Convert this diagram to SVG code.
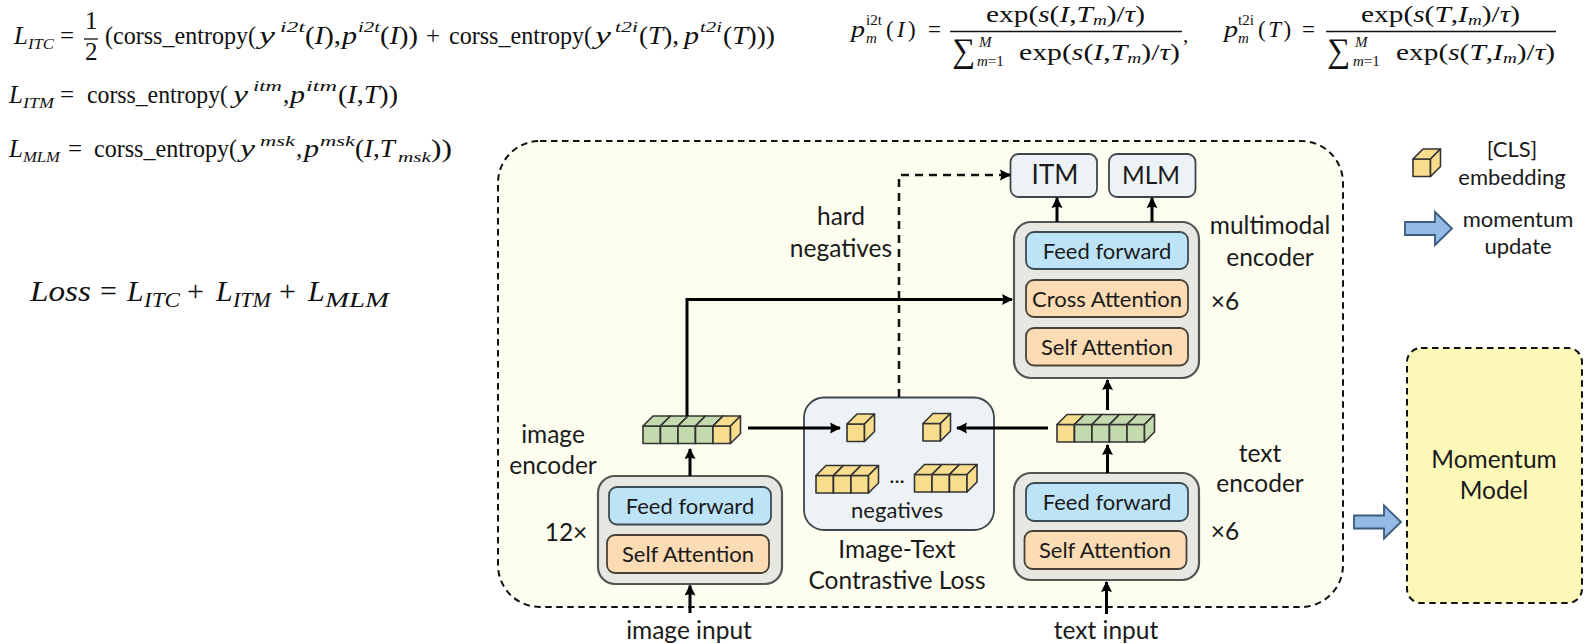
<svg xmlns="http://www.w3.org/2000/svg" width="1588" height="644" viewBox="0 0 1588 644">
<style>
text{font-family:"Lato","Open Sans","Liberation Sans",sans-serif;fill:#1a1a1a;text-anchor:middle}
.t{font-size:24.500px}
.s{font-size:22px}
.box{font-size:22px}
.outer{fill:#e8e8e3;stroke:#555;stroke-width:2.2}
.ff{fill:#bde3f7;stroke:#3c4a52;stroke-width:1.8}
.at{fill:#fbdcb4;stroke:#4a4238;stroke-width:1.8}
.head{fill:#edf2f6;stroke:#3f474d;stroke-width:1.8}
.g{fill:#c3d9ae;stroke:#333;stroke-width:1.6;stroke-linejoin:round}
.y{fill:#f9dd8f;stroke:#333;stroke-width:1.6;stroke-linejoin:round}
.ba{fill:#94bbe3;stroke:#3a5a80;stroke-width:1.8;stroke-linejoin:miter}
.c{fill:none;stroke:#000;stroke-width:3}
.d{fill:none;stroke:#111;stroke-width:2.500;stroke-dasharray:8 6}
.dash{stroke:#111;stroke-width:2;stroke-dasharray:6.500 4.500}
.m{font-family:"Liberation Serif",serif;fill:#111;text-anchor:start}
.i{font-style:italic}
.e{font-size:25px}
.p{font-size:15px}
.l{font-size:30px}
.sb{font-size:21px}
.r{font-size:23px}
.rs{font-size:15px}
.bar{stroke:#111;stroke-width:1.3;fill:none}
.big{font-size:26px}
</style>
<defs>
<marker id="ah" markerUnits="userSpaceOnUse" markerWidth="13" markerHeight="13" refX="10" refY="6" orient="auto"><path d="M0 0.500L11 6L0 11.500L1.500 6Z" fill="#000"/></marker>
<g id="cell"><rect width="17.5" height="17.5"/><path d="M0 0L10 -10H27.5L17.5 0Z"/><path d="M17.5 0L27.5 -10V7.5L17.5 17.5Z"/></g>
<path id="barrow" d="M0 10H30V0L47 16.5L30 33V23H0Z"/>
</defs>

<g id="formulas">
<text class="m e i" x="14" y="44">L</text><text class="m p i" x="28" y="49" textLength="26" lengthAdjust="spacingAndGlyphs">ITC</text>
<text class="m e" x="60" y="44">=</text>
<text class="m e" x="85" y="29">1</text><path class="bar" d="M84 39H98"/><text class="m e" x="85" y="60">2</text>
<text class="m e" x="105" y="44" textLength="151" lengthAdjust="spacingAndGlyphs">(corss_entropy(</text>
<text class="m e i" x="259" y="44" textLength="16" lengthAdjust="spacingAndGlyphs">y</text><text class="m p i" x="280" y="32" textLength="25" lengthAdjust="spacingAndGlyphs">i2t</text>
<text class="m e" x="305" y="44" textLength="36" lengthAdjust="spacingAndGlyphs">(<tspan class="i">I</tspan>),</text>
<text class="m e i" x="342" y="44" textLength="15" lengthAdjust="spacingAndGlyphs">p</text><text class="m p i" x="358" y="32" textLength="22" lengthAdjust="spacingAndGlyphs">i2t</text>
<text class="m e" x="380" y="44" textLength="38" lengthAdjust="spacingAndGlyphs">(<tspan class="i">I</tspan>))</text>
<text class="m e" x="426" y="44">+</text>
<text class="m e" x="449" y="44" textLength="143" lengthAdjust="spacingAndGlyphs">corss_entropy(</text>
<text class="m e i" x="595" y="44" textLength="16" lengthAdjust="spacingAndGlyphs">y</text><text class="m p i" x="615" y="32" textLength="23" lengthAdjust="spacingAndGlyphs">t2i</text>
<text class="m e" x="639" y="44" textLength="40" lengthAdjust="spacingAndGlyphs">(<tspan class="i">T</tspan>),</text>
<text class="m e i" x="684" y="44" textLength="15" lengthAdjust="spacingAndGlyphs">p</text><text class="m p i" x="700" y="32" textLength="22" lengthAdjust="spacingAndGlyphs">t2i</text>
<text class="m e" x="723" y="44" textLength="52" lengthAdjust="spacingAndGlyphs">(<tspan class="i">T</tspan>)))</text>

<text class="m e i" x="9" y="103">L</text><text class="m p i" x="23" y="108" textLength="31" lengthAdjust="spacingAndGlyphs">ITM</text>
<text class="m e" x="60" y="103">=</text>
<text class="m e" x="87" y="103" textLength="141" lengthAdjust="spacingAndGlyphs">corss_entropy(</text>
<text class="m e i" x="233" y="103" textLength="15" lengthAdjust="spacingAndGlyphs">y</text><text class="m p i" x="253" y="91" textLength="29" lengthAdjust="spacingAndGlyphs">itm</text>
<text class="m e" x="283" y="103">,</text>
<text class="m e i" x="290" y="103" textLength="15" lengthAdjust="spacingAndGlyphs">p</text><text class="m p i" x="306" y="91" textLength="31" lengthAdjust="spacingAndGlyphs">itm</text>
<text class="m e" x="338" y="103" textLength="60" lengthAdjust="spacingAndGlyphs">(<tspan class="i">I</tspan>,<tspan class="i">T</tspan>))</text>

<text class="m e i" x="9" y="157">L</text><text class="m p i" x="23" y="162" textLength="37" lengthAdjust="spacingAndGlyphs">MLM</text>
<text class="m e" x="68" y="157">=</text>
<text class="m e" x="94" y="157" textLength="143" lengthAdjust="spacingAndGlyphs">corss_entropy(</text>
<text class="m e i" x="240" y="157" textLength="15" lengthAdjust="spacingAndGlyphs">y</text><text class="m p i" x="260" y="146" textLength="35" lengthAdjust="spacingAndGlyphs">msk</text>
<text class="m e" x="296" y="157">,</text>
<text class="m e i" x="304" y="157" textLength="15" lengthAdjust="spacingAndGlyphs">p</text><text class="m p i" x="320" y="146" textLength="35" lengthAdjust="spacingAndGlyphs">msk</text>
<text class="m e" x="355" y="157" textLength="40" lengthAdjust="spacingAndGlyphs">(<tspan class="i">I</tspan>,<tspan class="i">T</tspan></text>
<text class="m p i" x="398" y="162" textLength="33" lengthAdjust="spacingAndGlyphs">msk</text>
<text class="m e" x="431" y="157" textLength="21" lengthAdjust="spacingAndGlyphs">))</text>

<text class="m l i" x="30" y="301" textLength="61" lengthAdjust="spacingAndGlyphs">Loss</text>
<text class="m l" x="100" y="301">=</text>
<text class="m l i" x="127" y="301">L</text><text class="m sb i" x="144" y="307" textLength="36" lengthAdjust="spacingAndGlyphs">ITC</text>
<text class="m l" x="187" y="301">+</text>
<text class="m l i" x="216" y="301">L</text><text class="m sb i" x="233" y="307" textLength="38" lengthAdjust="spacingAndGlyphs">ITM</text>
<text class="m l" x="279" y="301">+</text>
<text class="m l i" x="308" y="301">L</text><text class="m sb i" x="325" y="307" textLength="64" lengthAdjust="spacingAndGlyphs">MLM</text>

<text class="m r i" x="851" y="37" textLength="14" lengthAdjust="spacingAndGlyphs">p</text><text class="m rs" x="866" y="25">i2t</text><text class="m rs i" x="866" y="43">m</text>
<text class="m r" x="886" y="37" textLength="55" lengthAdjust="spacing">(<tspan class="i">I</tspan>) =</text>
<text class="m r" x="986" y="22" textLength="159" lengthAdjust="spacingAndGlyphs">exp(<tspan class="i">s</tspan>(<tspan class="i">I</tspan>,<tspan class="i">T</tspan><tspan class="i" font-size="15" dy="3">m</tspan><tspan dy="-3">)/</tspan><tspan class="i">τ</tspan>)</text>
<path class="bar" d="M950 31.500H1182"/>
<text class="m" x="952" y="62" font-size="34" textLength="23" lengthAdjust="spacingAndGlyphs">∑</text><text class="m rs i" x="979" y="47">M</text><text class="m rs" x="977" y="66"><tspan class="i">m</tspan>=1</text>
<text class="m r" x="1019" y="60" textLength="161" lengthAdjust="spacingAndGlyphs">exp(<tspan class="i">s</tspan>(<tspan class="i">I</tspan>,<tspan class="i">T</tspan><tspan class="i" font-size="15" dy="3">m</tspan><tspan dy="-3">)/</tspan><tspan class="i">τ</tspan>)</text>
<text class="m sb" x="1183" y="42">,</text>

<text class="m r i" x="1224" y="37" textLength="14" lengthAdjust="spacingAndGlyphs">p</text><text class="m rs" x="1238" y="25">t2i</text><text class="m rs i" x="1238" y="43">m</text>
<text class="m r" x="1258" y="37" textLength="57" lengthAdjust="spacing">(<tspan class="i">T</tspan>) =</text>
<text class="m r" x="1361" y="22" textLength="159" lengthAdjust="spacingAndGlyphs">exp(<tspan class="i">s</tspan>(<tspan class="i">T</tspan>,<tspan class="i">I</tspan><tspan class="i" font-size="15" dy="3">m</tspan><tspan dy="-3">)/</tspan><tspan class="i">τ</tspan>)</text>
<path class="bar" d="M1326 31.500H1556"/>
<text class="m" x="1327" y="62" font-size="34" textLength="23" lengthAdjust="spacingAndGlyphs">∑</text><text class="m rs i" x="1355" y="47">M</text><text class="m rs" x="1353" y="66"><tspan class="i">m</tspan>=1</text>
<text class="m r" x="1396" y="60" textLength="159" lengthAdjust="spacingAndGlyphs">exp(<tspan class="i">s</tspan>(<tspan class="i">T</tspan>,<tspan class="i">I</tspan><tspan class="i" font-size="15" dy="3">m</tspan><tspan dy="-3">)/</tspan><tspan class="i">τ</tspan>)</text>
</g>

<g id="model-frame"><rect class="dash" x="498" y="141" width="845" height="466" rx="42" fill="#fefef0"/></g>

<g id="image-encoder">
<rect class="outer" x="598" y="476" width="184" height="108" rx="17"/>
<rect class="ff" x="609" y="487" width="162" height="37.500" rx="8"/><text class="box" x="690" y="514">Feed forward</text>
<rect class="at" x="607" y="535" width="162" height="38" rx="8"/><text class="box" x="688" y="562">Self Attention</text>
</g>
<g id="image-encoder-labels"><text class="t" x="553" y="443">image</text><text class="t" x="553" y="474">encoder</text><text class="t" x="566" y="541">12×</text></g>
<g id="image-tokens">
<use href="#cell" class="g" x="643" y="426"/><use href="#cell" class="g" x="660.500" y="426"/><use href="#cell" class="g" x="678" y="426"/><use href="#cell" class="g" x="695.500" y="426"/><use href="#cell" class="y" x="713" y="426"/>
</g>
<g id="contrastive-loss">
<rect class="head" x="804" y="397.500" width="190" height="132.500" rx="20"/>
<use href="#cell" class="y" x="847" y="424"/><use href="#cell" class="y" x="923" y="423.500"/>
<use href="#cell" class="y" x="816" y="475.500"/><use href="#cell" class="y" x="833.500" y="475.500"/><use href="#cell" class="y" x="851" y="475.500"/>
<use href="#cell" class="y" x="914.500" y="474.500"/><use href="#cell" class="y" x="932" y="474.500"/><use href="#cell" class="y" x="949.500" y="474.500"/>
<text class="s" x="897" y="483">...</text>
<text class="s" x="897" y="518">negatives</text>
<text class="t" x="897" y="558">Image-Text</text><text class="t" x="897" y="589">Contrastive Loss</text>
</g>
<g id="text-tokens">
<use href="#cell" class="y" x="1057" y="424.500"/><use href="#cell" class="g" x="1074.500" y="424.500"/><use href="#cell" class="g" x="1092" y="424.500"/><use href="#cell" class="g" x="1109.500" y="424.500"/><use href="#cell" class="g" x="1127" y="424.500"/>
</g>
<g id="text-encoder">
<rect class="outer" x="1014" y="473" width="185" height="107" rx="17"/>
<rect class="ff" x="1026" y="483" width="162" height="38" rx="8"/><text class="box" x="1107" y="510">Feed forward</text>
<rect class="at" x="1024.500" y="531" width="162" height="38" rx="8"/><text class="box" x="1105" y="558">Self Attention</text>
<text class="t" x="1260" y="462">text</text><text class="t" x="1260" y="492">encoder</text><text class="t" x="1225" y="540">×6</text>
</g>
<g id="multimodal-encoder">
<rect class="outer" x="1014" y="222" width="185" height="156" rx="17"/>
<rect class="ff" x="1026" y="232" width="162" height="37" rx="8"/><text class="box" x="1107" y="259">Feed forward</text>
<rect class="at" x="1026" y="280" width="162" height="37" rx="8"/><text class="box" x="1107" y="307">Cross Attention</text>
<rect class="at" x="1026" y="328" width="162" height="37.500" rx="8"/><text class="box" x="1107" y="355">Self Attention</text>
<text class="t" x="1270" y="234">multimodal</text><text class="t" x="1270" y="266">encoder</text><text class="t" x="1225" y="310">×6</text>
</g>
<g id="itm"><rect class="head" x="1010.500" y="154" width="86.500" height="43" rx="8"/><text class="big" x="1055" y="184">ITM</text></g>
<g id="mlm"><rect class="head" x="1109" y="154" width="86.500" height="43" rx="8"/><text class="t" x="1151" y="184">MLM</text></g>
<g id="momentum-model"><rect class="dash" x="1407" y="348" width="175" height="255" rx="14" fill="#fcf8b8"/><text class="t" x="1494" y="468">Momentum</text><text class="t" x="1494" y="499">Model</text></g>
<g id="legend">
<use href="#cell" class="y" x="1413" y="159"/>
<text class="s" x="1512" y="157">[CLS]</text><text class="s" x="1512" y="185">embedding</text>
<use href="#barrow" class="ba" x="1405" y="212"/>
<text class="s" x="1518" y="227">momentum</text><text class="s" x="1518" y="254">update</text>
</g>
<g id="momentum-arrow"><use href="#barrow" class="ba" x="1354" y="505.500"/></g>

<g id="connectors">
<path class="c" d="M690 476V449" marker-end="url(#ah)"/>
<path class="c" d="M690 613V585.500" marker-end="url(#ah)"/>
<path class="c" d="M748 428H840" marker-end="url(#ah)"/>
<path class="c" d="M1048 428H957" marker-end="url(#ah)"/>
<path class="c" d="M687 416V299.500H1012" marker-end="url(#ah)"/>
<path class="d" d="M899 397V175H1004"/><path class="c" d="M1002 175H1010" marker-end="url(#ah)"/>
<path class="c" d="M1057 222V198" marker-end="url(#ah)"/>
<path class="c" d="M1152 222V198" marker-end="url(#ah)"/>
<path class="c" d="M1107.500 410V380" marker-end="url(#ah)"/>
<path class="c" d="M1107.500 473V445" marker-end="url(#ah)"/>
<path class="c" d="M1106.500 614V582" marker-end="url(#ah)"/>
</g>
<g id="inputs"><text class="t" x="689" y="639">image input</text><text class="t" x="1106" y="639">text input</text></g>
<g id="dash-label"><text class="t" x="841" y="225">hard</text><text class="t" x="841" y="257">negatives</text></g>
</svg>
